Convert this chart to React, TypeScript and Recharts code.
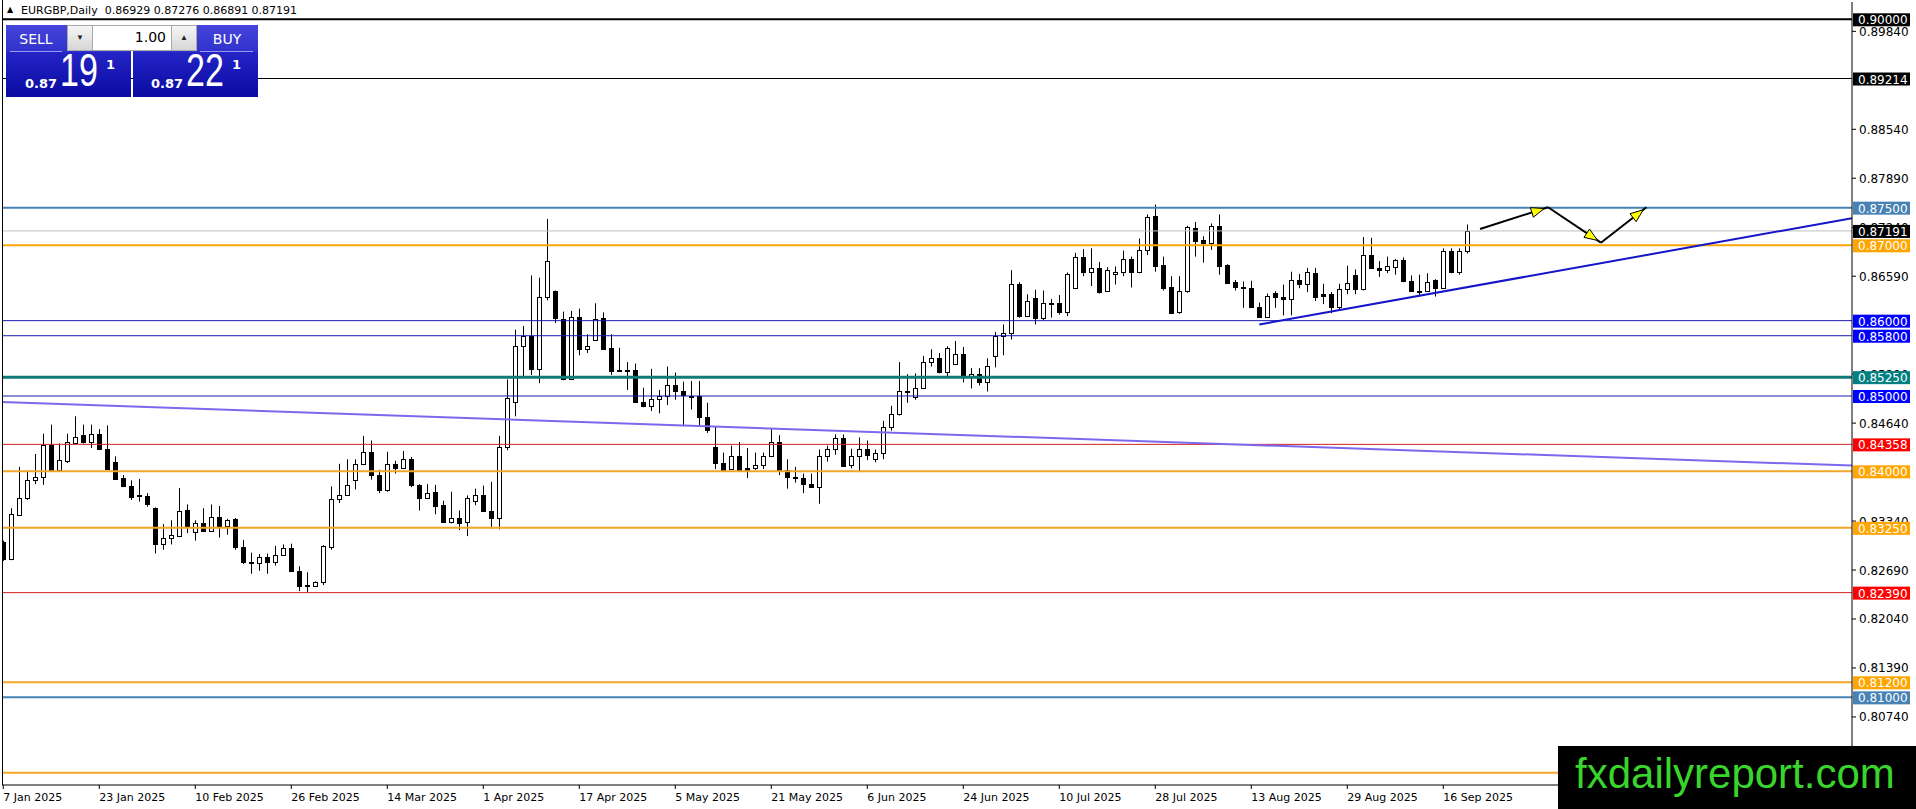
import React from 'react';
import { ComposedChart, Bar, XAxis, YAxis, ReferenceLine } from 'recharts';

// EURGBP daily candles, 7 Jan 2025 .. 19 Sep 2025
const opens = [
  0.8306, 0.8283, 0.8342, 0.8365, 0.8389, 0.8392, 0.8435, 0.8402, 0.8414, 0.8438,
  0.8448, 0.8439, 0.8450, 0.8430, 0.8413, 0.8391, 0.8380, 0.8368, 0.8367, 0.8351,
  0.8304, 0.8312, 0.8314, 0.8349, 0.8319, 0.8331, 0.8321, 0.8340, 0.8328, 0.8337,
  0.8300, 0.8279, 0.8278, 0.8286, 0.8279, 0.8289, 0.8298, 0.8268, 0.8249, 0.8248,
  0.8253, 0.8300, 0.8363, 0.8369, 0.8388, 0.8410, 0.8426, 0.8395, 0.8375, 0.8410,
  0.8404, 0.8416, 0.8382, 0.8364, 0.8373, 0.8355, 0.8333, 0.8338, 0.8333, 0.8360,
  0.8369, 0.8348, 0.8338, 0.8432, 0.8492, 0.8567, 0.8579, 0.8536, 0.8632, 0.8639,
  0.8602, 0.8523, 0.8605, 0.8562, 0.8574, 0.8603, 0.8564, 0.8534, 0.8535, 0.8535,
  0.8492, 0.8487, 0.8496, 0.8500, 0.8515, 0.8507, 0.8500, 0.8500, 0.8472, 0.8432,
  0.8411, 0.8403, 0.8421, 0.8404, 0.8404, 0.8409, 0.8421, 0.8439, 0.8402, 0.8392,
  0.8391, 0.8383, 0.8379, 0.8421, 0.8429, 0.8444, 0.8408, 0.8420, 0.8430, 0.8416,
  0.8424, 0.8459, 0.8476, 0.8507, 0.8499, 0.8510, 0.8545, 0.8550, 0.8532, 0.8542,
  0.8556, 0.8526, 0.8529, 0.8519, 0.8553, 0.8579, 0.8583, 0.8649, 0.8606, 0.8630,
  0.8604, 0.8624, 0.8623, 0.8612, 0.8644, 0.8684, 0.8665, 0.8670, 0.8639, 0.8662,
  0.8665, 0.8682, 0.8665, 0.8694, 0.8739, 0.8674, 0.8645, 0.8611, 0.8639, 0.8723,
  0.8707, 0.8703, 0.8726, 0.8674, 0.8651, 0.8645, 0.8643, 0.8618, 0.8605, 0.8637,
  0.8632, 0.8629, 0.8654, 0.8649, 0.8663, 0.8635, 0.8635, 0.8618, 0.8642, 0.8661,
  0.8642, 0.8687, 0.8670, 0.8667, 0.8671, 0.8681, 0.8653, 0.8640, 0.8640, 0.8654,
  0.8644, 0.8693, 0.8665, 0.86929,
];
const highs = [
  0.8308, 0.8351, 0.8406, 0.8401, 0.8423, 0.8450, 0.8462, 0.8437, 0.8450, 0.8473,
  0.8462, 0.8462, 0.8456, 0.8461, 0.8420, 0.8395, 0.8388, 0.8390, 0.8371, 0.8352,
  0.8330, 0.8335, 0.8378, 0.8356, 0.8335, 0.8351, 0.8356, 0.8354, 0.8337, 0.8338,
  0.8309, 0.8292, 0.8290, 0.8291, 0.8301, 0.8303, 0.8304, 0.8274, 0.8266, 0.8254,
  0.8302, 0.8380, 0.8410, 0.8416, 0.8416, 0.8447, 0.8441, 0.8402, 0.8426, 0.8414,
  0.8427, 0.8419, 0.8383, 0.8383, 0.8382, 0.8361, 0.8373, 0.8348, 0.8368, 0.8377,
  0.8381, 0.8386, 0.8447, 0.8522, 0.8588, 0.8593, 0.8660, 0.8657, 0.8735, 0.8640,
  0.8612, 0.8613, 0.8616, 0.8582, 0.8623, 0.8611, 0.8582, 0.8564, 0.8545, 0.8543,
  0.8511, 0.8536, 0.8508, 0.8539, 0.8531, 0.8519, 0.8520, 0.8520, 0.8491, 0.8459,
  0.8425, 0.8434, 0.8439, 0.8431, 0.8425, 0.8425, 0.8457, 0.8448, 0.8416, 0.8406,
  0.8397, 0.8397, 0.8429, 0.8434, 0.8449, 0.8449, 0.8430, 0.8445, 0.8441, 0.8429,
  0.8467, 0.8487, 0.8545, 0.8529, 0.8530, 0.8553, 0.8562, 0.8557, 0.8566, 0.8573,
  0.8565, 0.8537, 0.8537, 0.8550, 0.8585, 0.8595, 0.8667, 0.8651, 0.8635, 0.8641,
  0.8640, 0.8629, 0.8634, 0.8664, 0.8690, 0.8695, 0.8696, 0.8678, 0.8671, 0.8672,
  0.8693, 0.8685, 0.8709, 0.8741, 0.8754, 0.8685, 0.8659, 0.8659, 0.8726, 0.8731,
  0.8712, 0.8729, 0.8741, 0.8675, 0.8654, 0.8652, 0.8653, 0.8624, 0.8636, 0.8639,
  0.8648, 0.8665, 0.8662, 0.8670, 0.8670, 0.8649, 0.8638, 0.8649, 0.8673, 0.8668,
  0.8711, 0.8710, 0.8679, 0.8685, 0.8682, 0.8684, 0.8660, 0.8661, 0.8663, 0.8655,
  0.8696, 0.8696, 0.8696, 0.87276,
];
const lows = [
  0.8281, 0.8282, 0.8341, 0.8362, 0.8383, 0.8382, 0.8402, 0.8402, 0.8411, 0.8436,
  0.8437, 0.8431, 0.8429, 0.8402, 0.8389, 0.8379, 0.8362, 0.8360, 0.8353, 0.8291,
  0.8296, 0.8303, 0.8313, 0.8318, 0.8308, 0.8320, 0.8320, 0.8312, 0.8316, 0.8296,
  0.8277, 0.8264, 0.8268, 0.8264, 0.8275, 0.8288, 0.8268, 0.8241, 0.8239, 0.8247,
  0.8249, 0.8296, 0.8358, 0.8368, 0.8376, 0.8410, 0.8389, 0.8371, 0.8373, 0.8397,
  0.8404, 0.8379, 0.8348, 0.8364, 0.8343, 0.8333, 0.8331, 0.8322, 0.8314, 0.8355,
  0.8347, 0.8324, 0.8323, 0.8428, 0.8473, 0.8526, 0.8528, 0.8517, 0.8627, 0.8597,
  0.8521, 0.8522, 0.8554, 0.8557, 0.8574, 0.8563, 0.8528, 0.8532, 0.8508, 0.8492,
  0.8485, 0.8480, 0.8477, 0.8488, 0.8495, 0.8460, 0.8482, 0.8460, 0.8451, 0.8403,
  0.8401, 0.8402, 0.8401, 0.8391, 0.8402, 0.8403, 0.8421, 0.8395, 0.8377, 0.8385,
  0.8371, 0.8379, 0.8357, 0.8413, 0.8422, 0.8406, 0.8404, 0.8399, 0.8415, 0.8412,
  0.8416, 0.8454, 0.8474, 0.8491, 0.8495, 0.8510, 0.8539, 0.8530, 0.8526, 0.8542,
  0.8518, 0.8510, 0.8514, 0.8506, 0.8538, 0.8554, 0.8575, 0.8604, 0.8605, 0.8595,
  0.8600, 0.8604, 0.8608, 0.8606, 0.8642, 0.8659, 0.8646, 0.8636, 0.8638, 0.8648,
  0.8659, 0.8644, 0.8663, 0.8687, 0.8665, 0.8640, 0.8609, 0.8609, 0.8637, 0.8685,
  0.8677, 0.8694, 0.8661, 0.8650, 0.8640, 0.8617, 0.8617, 0.8604, 0.8604, 0.8617,
  0.8607, 0.8607, 0.8643, 0.8638, 0.8626, 0.8622, 0.8610, 0.8615, 0.8635, 0.8635,
  0.8640, 0.8670, 0.8658, 0.8663, 0.8661, 0.8651, 0.8638, 0.8632, 0.8639, 0.8632,
  0.8643, 0.8663, 0.8661, 0.86891,
];
const closes = [
  0.8283, 0.8343, 0.8365, 0.8389, 0.8392, 0.8435, 0.8402, 0.8415, 0.8439, 0.8446,
  0.8439, 0.8450, 0.8429, 0.8403, 0.8390, 0.8380, 0.8366, 0.8367, 0.8357, 0.8303,
  0.8312, 0.8315, 0.8347, 0.8327, 0.8331, 0.8321, 0.8340, 0.8328, 0.8335, 0.8300,
  0.8279, 0.8278, 0.8286, 0.8279, 0.8289, 0.8298, 0.8268, 0.8248, 0.8248, 0.8253,
  0.8301, 0.8363, 0.8369, 0.8382, 0.8410, 0.8426, 0.8395, 0.8375, 0.8410, 0.8404,
  0.8416, 0.8382, 0.8364, 0.8371, 0.8354, 0.8333, 0.8338, 0.8332, 0.8365, 0.8369,
  0.8347, 0.8338, 0.8432, 0.8497, 0.8567, 0.8579, 0.8536, 0.8632, 0.8679, 0.8603,
  0.8523, 0.8605, 0.8562, 0.8567, 0.8602, 0.8563, 0.8533, 0.8533, 0.8534, 0.8492,
  0.8487, 0.8496, 0.8500, 0.8515, 0.8506, 0.8501, 0.8499, 0.8472, 0.8455, 0.8411,
  0.8402, 0.8421, 0.8402, 0.8400, 0.8409, 0.8421, 0.8439, 0.8400, 0.8392, 0.8391,
  0.8383, 0.8379, 0.8421, 0.8429, 0.8444, 0.8407, 0.8420, 0.8430, 0.8422, 0.8424,
  0.8459, 0.8476, 0.8506, 0.8506, 0.8510, 0.8545, 0.8550, 0.8532, 0.8564, 0.8556,
  0.8526, 0.8529, 0.8519, 0.8540, 0.8579, 0.8584, 0.8649, 0.8606, 0.8626, 0.8604,
  0.8623, 0.8623, 0.8612, 0.8662, 0.8684, 0.8665, 0.8670, 0.8638, 0.8667, 0.8665,
  0.8682, 0.8665, 0.8694, 0.8737, 0.8673, 0.8644, 0.8610, 0.8639, 0.8724, 0.8706,
  0.8703, 0.8725, 0.8673, 0.8650, 0.8645, 0.8643, 0.8618, 0.8605, 0.8633, 0.8631,
  0.8629, 0.8654, 0.8649, 0.8664, 0.8632, 0.8633, 0.8618, 0.8642, 0.8650, 0.8642,
  0.8687, 0.8670, 0.8667, 0.8673, 0.8680, 0.8653, 0.8639, 0.8639, 0.8651, 0.8644,
  0.8693, 0.8665, 0.8693, 0.87191,
];

const dateTicks = [0, 12, 24, 36, 48, 60, 72, 84, 96, 108, 120, 132, 144, 156, 168, 180];
const dateLabels = [
  '7 Jan 2025', '23 Jan 2025', '10 Feb 2025', '26 Feb 2025', '14 Mar 2025', '1 Apr 2025',
  '17 Apr 2025', '5 May 2025', '21 May 2025', '6 Jun 2025', '24 Jun 2025', '10 Jul 2025',
  '28 Jul 2025', '13 Aug 2025', '29 Aug 2025', '16 Sep 2025',
];

// price scale labels that are not hidden behind a level box
const priceTicks = [
  0.8984, 0.8854, 0.8789, 0.8724, 0.8659, 0.8529,
  0.8464, 0.8334, 0.8269, 0.8204, 0.8139, 0.8074,
];

// horizontal levels drawn on the chart
const levelPrices = [0.9, 0.89214, 0.875, 0.87191, 0.87, 0.86, 0.858, 0.8525, 0.85, 0.84358, 0.84, 0.8325, 0.8239, 0.812, 0.81, 0.8];
const levelColors = ['#000000', '#000000', '#4682B4', '#000000', '#FFA500', '#0000FF', '#0000FF', '#008080', '#0000FF', '#FF0000', '#FFA500', '#FFA500', '#FF0000', '#FFA500', '#4682B4', '#FFA500'];
const levelLineColors = ['#000000', '#000000', '#4682B4', '#C0C0C0', '#FFA500', '#1a1ab4', '#1a1ab4', '#0f7a78', '#1a1ab4', '#d42020', '#F2A52A', '#F2A52A', '#d42020', '#F2A52A', '#4682B4', '#F2A52A'];
const levelWidths = [2, 1, 2, 1, 2, 1, 1, 3, 1, 1, 2, 2, 1, 2, 2, 2];
// the 0.80000 box sits under the watermark
const levelBoxed = [true, true, true, true, true, true, true, true, true, true, true, true, true, true, true, false];

// drawn objects, in (bar index, price)
const trendXs = [157, 231.09];
const trendYs = [0.8595, 0.8736];
const slopeXs = [-0.16, 231.09];
const slopeYs = [0.8492, 0.84076];
const arrowXs = [184.6, 193.1, 199.7, 205.4];
const arrowYs = [0.87217, 0.87505, 0.87035, 0.87505];

const candles = opens.map((o, i) => ({
  i,
  open: o,
  high: highs[i],
  low: lows[i],
  close: closes[i],
  range: [lows[i], highs[i]],
}));

const boxedLevels = levelPrices.filter((_, i) => levelBoxed[i]);

const FONT = '"DejaVu Sans", Verdana, sans-serif';

const Candle = (props: any) => {
  const { x, y, width, height, payload } = props;
  if (x == null || payload == null) return null;
  const { open, close, high, low } = payload;
  const cx = Math.round(x + width / 2) + 0.5;
  const top = Math.min(y, y + height);
  const h = Math.abs(height);
  const ppu = h / (high - low);
  const yO = top + (high - open) * ppu;
  const yC = top + (high - close) * ppu;
  const bTop = Math.round(Math.min(yO, yC)) + 0.5;
  const bBot = Math.max(Math.round(Math.max(yO, yC)) + 0.5, bTop + 1);
  return (
    <g>
      <line x1={cx} x2={cx} y1={top} y2={top + h} stroke="#000" strokeWidth={1} />
      <rect x={cx - 2} y={bTop} width={4} height={bBot - bTop} fill={close >= open ? '#fff' : '#000'} stroke="#000" strokeWidth={1} />
    </g>
  );
};

const PriceTick = (props: any) => {
  const { x, y, payload } = props;
  const v = payload.value;
  const li = levelPrices.indexOf(v);
  const text = v.toFixed(5);
  if (li >= 0) {
    return (
      <g>
        <rect x={x + 1} y={y - 6} width={57} height={13} fill={levelColors[li]} />
        <text x={x + 6} y={y + 5} fill="#fff" fontSize={12} fontFamily={FONT}>{text}</text>
      </g>
    );
  }
  return (
    <g>
      <line x1={x} x2={x + 4} y1={y} y2={y} stroke="#000" />
      <text x={x + 7} y={y + 4.5} fill="#000" fontSize={12} fontFamily={FONT}>{text}</text>
    </g>
  );
};

const DateTick = (props: any) => {
  const { x, y, payload } = props;
  const idx = dateTicks.indexOf(payload.value);
  return (
    <g>
      <line x1={x} x2={x} y1={y} y2={y + 4} stroke="#000" />
      <text x={x} y={y + 16} fill="#000" fontSize={11} fontFamily={FONT}>{dateLabels[idx]}</text>
    </g>
  );
};

const ArrowShape = (props: any) => {
  const { x1, y1, x2, y2 } = props;
  const dx = x2 - x1;
  const dy = y2 - y1;
  const len = Math.hypot(dx, dy) || 1;
  const ux = dx / len;
  const uy = dy / len;
  const tx = x2 - ux * 4;
  const ty = y2 - uy * 4;
  const bx = tx - ux * 13;
  const by = ty - uy * 13;
  const px = -uy * 5;
  const py = ux * 5;
  return (
    <g>
      <line x1={x1} y1={y1} x2={x2} y2={y2} stroke="#000" strokeWidth={2} />
      <polygon points={`${tx},${ty} ${bx + px},${by + py} ${bx - px},${by - py}`} fill="#FFFF00" stroke="#000" strokeWidth={1} />
    </g>
  );
};

const boxTop = 'linear-gradient(#4646dc, #3030cc)';
const boxBottom = 'linear-gradient(#2424c6, #0a0aa2)';

const TradePanel = () => (
  <>
    {/* SELL */}
    <div style={{ position: 'absolute', left: 6, top: 25, width: 125, height: 27, background: boxTop }} />
    <div style={{ position: 'absolute', left: 6, top: 52, width: 125, height: 45, background: boxBottom }} />
    <div style={{ position: 'absolute', left: 10, top: 51, width: 52, height: 1, background: '#9a9af0' }} />
    <div style={{ position: 'absolute', left: 6, top: 31, width: 60, textAlign: 'center', color: '#fff', fontFamily: FONT, fontSize: 14, lineHeight: '16px' }}>SELL</div>
    <div style={{ position: 'absolute', left: 25, top: 77, color: '#fff', fontFamily: FONT, fontSize: 13, fontWeight: 'bold', lineHeight: '14px' }}>0.87</div>
    <div style={{ position: 'absolute', left: 60, top: 45, color: '#fff', fontFamily: '"Liberation Sans", Arial, sans-serif', fontSize: 46, lineHeight: '50px', transform: 'scaleX(0.74)', transformOrigin: 'left top' }}>19</div>
    <div style={{ position: 'absolute', left: 106, top: 58, color: '#fff', fontFamily: FONT, fontSize: 13, fontWeight: 'bold', lineHeight: '14px' }}>1</div>
    {/* BUY */}
    <div style={{ position: 'absolute', left: 133, top: 25, width: 125, height: 27, background: boxTop }} />
    <div style={{ position: 'absolute', left: 133, top: 52, width: 125, height: 45, background: boxBottom }} />
    <div style={{ position: 'absolute', left: 200, top: 51, width: 53, height: 1, background: '#9a9af0' }} />
    <div style={{ position: 'absolute', left: 197, top: 31, width: 60, textAlign: 'center', color: '#fff', fontFamily: FONT, fontSize: 14, lineHeight: '16px' }}>BUY</div>
    <div style={{ position: 'absolute', left: 151, top: 77, color: '#fff', fontFamily: FONT, fontSize: 13, fontWeight: 'bold', lineHeight: '14px' }}>0.87</div>
    <div style={{ position: 'absolute', left: 186, top: 45, color: '#fff', fontFamily: '"Liberation Sans", Arial, sans-serif', fontSize: 46, lineHeight: '50px', transform: 'scaleX(0.74)', transformOrigin: 'left top' }}>22</div>
    <div style={{ position: 'absolute', left: 232, top: 58, color: '#fff', fontFamily: FONT, fontSize: 13, fontWeight: 'bold', lineHeight: '14px' }}>1</div>
    {/* volume */}
    <div style={{ position: 'absolute', left: 67, top: 25, width: 130, height: 26, background: '#fff', boxSizing: 'border-box', border: '1px solid #a8a8a8' }} />
    <div style={{ position: 'absolute', left: 67, top: 25, width: 26, height: 26, background: 'linear-gradient(#f6f6f6, #d6d6d6)', boxSizing: 'border-box', border: '1px solid #a8a8a8', fontSize: 8, textAlign: 'center', lineHeight: '24px', color: '#222' }}>▼</div>
    <div style={{ position: 'absolute', left: 171, top: 25, width: 26, height: 26, background: 'linear-gradient(#f6f6f6, #d6d6d6)', boxSizing: 'border-box', border: '1px solid #a8a8a8', fontSize: 8, textAlign: 'center', lineHeight: '24px', color: '#222' }}>▲</div>
    <div style={{ position: 'absolute', left: 93, top: 29, width: 73, textAlign: 'right', fontFamily: FONT, fontSize: 14, lineHeight: '16px', color: '#000' }}>1.00</div>
  </>
);

export default function App() {
  return (
    <div style={{ position: 'absolute', left: 0, top: 0, width: 1916, height: 809, background: '#fff', overflow: 'hidden' }}>
      <ComposedChart
        width={1916}
        height={809}
        data={candles}
        margin={{ top: 2, right: 0, left: 2, bottom: 0 }}
      >
        <XAxis
          dataKey="i"
          type="number"
          domain={[-0.16, 231.09]}
          allowDataOverflow
          ticks={dateTicks}
          interval={0}
          height={24}
          tickLine={false}
          tickSize={0}
          tickMargin={0}
          axisLine={{ stroke: '#000' }}
          tick={<DateTick />}
        />
        <YAxis
          orientation="right"
          type="number"
          domain={[0.798366, 0.902296]}
          allowDataOverflow
          ticks={[...priceTicks, ...boxedLevels]}
          interval={0}
          width={64}
          tickLine={false}
          tickSize={0}
          tickMargin={0}
          axisLine={{ stroke: '#000' }}
          tick={<PriceTick />}
        />
        <Bar dataKey="range" barSize={8} shape={<Candle />} isAnimationActive={false} />
        {levelPrices.map((p, i) => (
          <ReferenceLine key={`lvl-${p}`} y={p} stroke={levelLineColors[i]} strokeWidth={levelWidths[i]} />
        ))}
        <ReferenceLine
          segment={[{ x: slopeXs[0], y: slopeYs[0] }, { x: slopeXs[1], y: slopeYs[1] }]}
          stroke="#7B68EE"
          strokeWidth={2}
          ifOverflow="hidden"
        />
        <ReferenceLine
          segment={[{ x: trendXs[0], y: trendYs[0] }, { x: trendXs[1], y: trendYs[1] }]}
          stroke="#1414c8"
          strokeWidth={2}
          ifOverflow="hidden"
        />
        {arrowXs.slice(1).map((ax, i) => (
          <ReferenceLine
            key={`arrow-${i}`}
            segment={[{ x: arrowXs[i], y: arrowYs[i] }, { x: ax, y: arrowYs[i + 1] }]}
            ifOverflow="visible"
            shape={ArrowShape}
          />
        ))}
      </ComposedChart>

      {/* window left border */}
      <div style={{ position: 'absolute', left: 2, top: 0, width: 1, height: 785, background: '#000' }} />

      {/* title */}
      <div style={{ position: 'absolute', left: 7, top: 5, fontSize: 8, lineHeight: '10px', color: '#000', fontFamily: FONT }}>▲</div>
      <div style={{ position: 'absolute', left: 21, top: 4, fontSize: 11, lineHeight: '13px', color: '#000', fontFamily: FONT, whiteSpace: 'pre' }}>
        EURGBP,Daily  0.86929 0.87276 0.86891 0.87191
      </div>

      <TradePanel />

      {/* watermark */}
      <div style={{ position: 'absolute', left: 1558, top: 746, width: 358, height: 63, background: '#000' }}>
        <div style={{ position: 'absolute', left: 17, top: 3, fontFamily: '"Liberation Sans", Arial, sans-serif', fontSize: 42, lineHeight: '50px', color: '#39d52c', whiteSpace: 'nowrap' }}>
          fxdailyreport.com
        </div>
      </div>
    </div>
  );
}
